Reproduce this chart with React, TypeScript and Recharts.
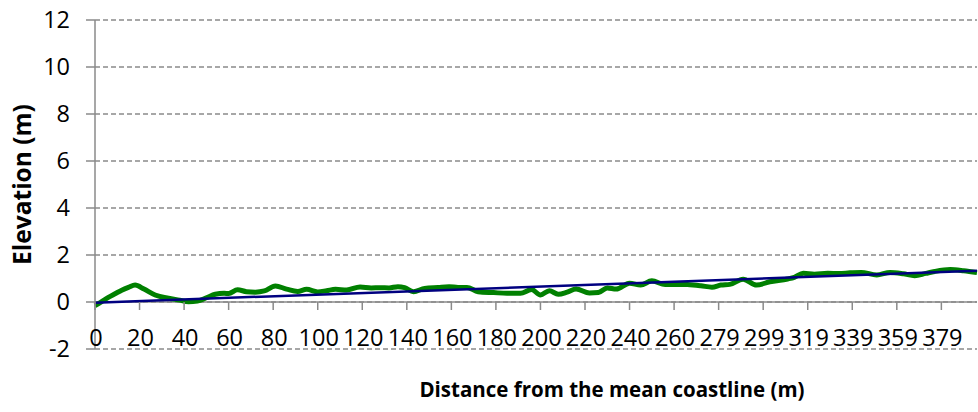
import { LineChart, Line, XAxis, YAxis, CartesianGrid, ReferenceLine } from 'recharts';

// point index along the transect (one step ~ 1 m) and elevation in m
const profileIdx = [
  0, 3, 6, 9, 12, 15, 18, 22, 27, 33, 38, 42, 46, 50, 54, 58, 60, 64, 68, 72, 76, 81, 86, 91, 95,
  100, 104, 108, 113, 119, 124, 128, 132, 136, 139, 143, 148, 154, 159, 163, 167, 172, 179, 185,
  191, 196, 200, 204, 208, 212, 216, 222, 226, 230, 234, 240, 245, 250, 256, 261, 266, 272, 277,
  281, 285, 291, 297, 303, 311, 314, 318, 323, 329, 334, 339, 344, 351, 357, 363, 368, 373, 377,
  384, 390, 396,
];
const elevation = [
  -0.15, 0.02, 0.2, 0.35, 0.5, 0.62, 0.72, 0.55, 0.3, 0.16, 0.08, 0.01, 0.04, 0.18, 0.33, 0.37,
  0.36, 0.52, 0.44, 0.42, 0.47, 0.68, 0.55, 0.45, 0.54, 0.43, 0.48, 0.54, 0.51, 0.64, 0.6, 0.61,
  0.6, 0.65, 0.61, 0.44, 0.58, 0.62, 0.65, 0.62, 0.62, 0.44, 0.4, 0.37, 0.37, 0.53, 0.3, 0.48,
  0.33, 0.42, 0.55, 0.38, 0.4, 0.6, 0.55, 0.8, 0.72, 0.9, 0.74, 0.75, 0.74, 0.69, 0.63, 0.72,
  0.75, 0.97, 0.72, 0.86, 0.98, 1.05, 1.22, 1.18, 1.22, 1.21, 1.24, 1.26, 1.15, 1.26, 1.2, 1.12,
  1.22, 1.3, 1.38, 1.33, 1.25,
];

// linear trend, end points
const trendIdx = [0, 396];
const trendElev = [-0.03, 1.33];

const xTicks = [0, 20, 40, 60, 80, 100, 120, 140, 160, 180, 200, 220, 240, 260, 280, 300, 320, 340, 360, 380];
const xTickLabels = [
  '0', '20', '40', '60', '80', '100', '120', '140', '160', '180', '200', '220', '240', '260',
  '279', '299', '319', '339', '359', '379',
];
const yTicks = [-2, 0, 2, 4, 6, 8, 10, 12];

const profile = profileIdx.map((idx, i) => ({ idx, elev: elevation[i] }));
const trend = trendIdx.map((idx, i) => ({ idx, elev: trendElev[i] }));

const W = 978;
const H = 412;
const TOP = 20;
const BOTTOM = 349;
const Y_MIN = -2;
const Y_MAX = 12;
const Y_ZERO = TOP + ((BOTTOM - TOP) * Y_MAX) / (Y_MAX - Y_MIN);

const AXIS = '#8a8a8a';
const FONT = '"Open Sans", sans-serif';

function XTick(props: any) {
  const { x, payload } = props;
  const i = xTicks.indexOf(payload.value);
  return (
    <g>
      <line x1={x} x2={x} y1={Y_ZERO} y2={Y_ZERO + 8} stroke={AXIS} strokeWidth={1.5} />
      <text x={x + 1} y={Y_ZERO + 44} textAnchor="middle" fontSize={23.5} fill="#000" fontFamily={FONT}>
        {xTickLabels[i]}
      </text>
    </g>
  );
}

export default function App() {
  return (
    <div style={{ position: 'absolute', left: 0, top: 0, width: W, height: H, background: '#fff' }}>
      <LineChart width={W} height={H} margin={{ top: TOP, right: 1, bottom: 0, left: 0 }}>
        <CartesianGrid vertical={false} stroke={AXIS} strokeDasharray="5 3" strokeWidth={1.5} />
        <XAxis
          type="number"
          dataKey="idx"
          domain={[0, 396]}
          ticks={xTicks}
          interval={0}
          height={H - BOTTOM}
          axisLine={false}
          tickLine={false}
          tick={<XTick />}
          label={{
            value: 'Distance from the mean coastline (m)',
            position: 'insideBottom',
            offset: 15,
            dx: 76,
            fontSize: 20.5,
            fontWeight: 700,
            fill: '#000',
            fontFamily: FONT,
          }}
        />
        <YAxis
          type="number"
          domain={[Y_MIN, Y_MAX]}
          ticks={yTicks}
          interval={0}
          width={95}
          axisLine={{ stroke: AXIS, strokeWidth: 1.5 }}
          tickLine={{ stroke: AXIS, strokeWidth: 1.5 }}
          tickSize={9}
          tickMargin={16}
          tick={{ fontSize: 23.5, fill: '#000', fontFamily: FONT }}
          label={{
            value: 'Elevation (m)',
            angle: -90,
            position: 'center',
            dx: -25,
            fontSize: 24.5,
            fontWeight: 700,
            fill: '#000',
            fontFamily: FONT,
          }}
        />
        <ReferenceLine y={0} stroke={AXIS} strokeWidth={1.5} />
        <Line
          data={profile}
          dataKey="elev"
          type="monotone"
          stroke="#008000"
          strokeWidth={5}
          dot={false}
          isAnimationActive={false}
        />
        <Line
          data={trend}
          dataKey="elev"
          type="linear"
          stroke="#000080"
          strokeWidth={2.5}
          dot={false}
          isAnimationActive={false}
        />
      </LineChart>
    </div>
  );
}
